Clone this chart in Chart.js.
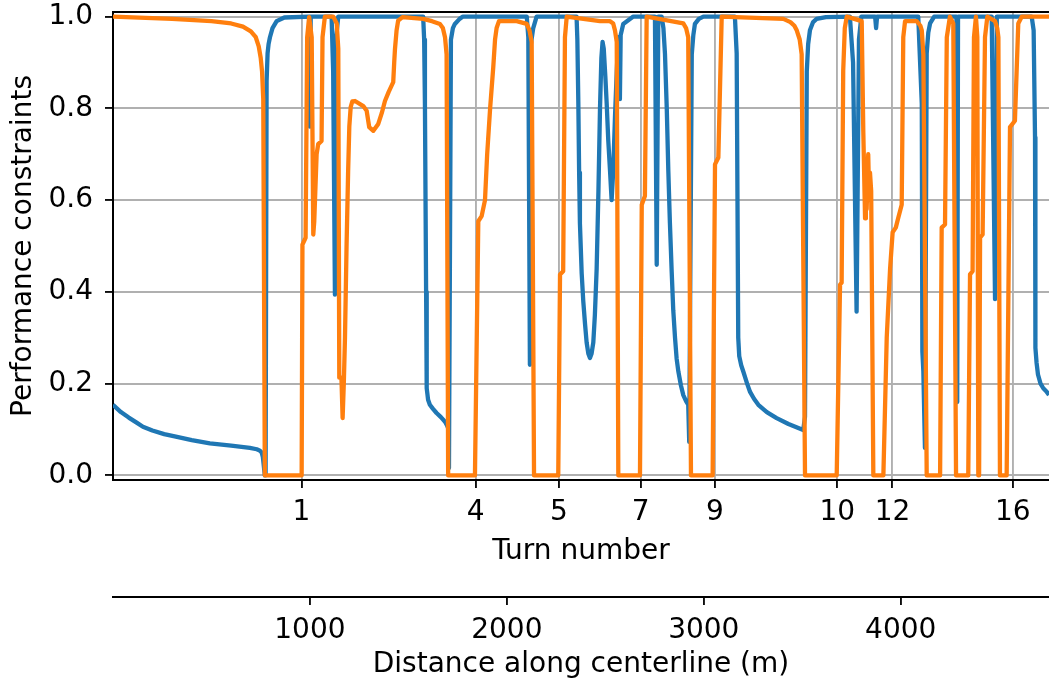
<!DOCTYPE html>
<html>
<head>
<meta charset="utf-8">
<script src="https://cdn.jsdelivr.net/npm/chart.js@4.4.0/dist/chart.umd.min.js"></script>
<style>
  body { margin: 0; background: #fff; }
  #chart { display: block; }
</style>
</head>
<body>
<canvas id="chart" width="1049" height="682"></canvas>
<script>
// lap distance range (m)
const distMax = 4753;

// turns along the lap
const turnLabels = ["1", "4", "5", "7", "9", "10", "12", "16"];
const turnDist = [957, 1842, 2264, 2679, 3057, 3678, 3958, 4569];
const distTicks = [1000, 2000, 3000, 4000];
const yTicks = [0, 0.2, 0.4, 0.6, 0.8, 1.0];

// first constraint (blue)
const blueDist = [0, 40, 80, 120, 152, 200, 260, 325, 400, 492, 600, 695, 730, 746, 755, 761, 766, 771, 775,
  780, 785, 790, 797, 810, 831, 870, 996, 1000, 1004,
  1110, 1118, 1127, 1132, 1144,
  1575, 1580, 1584, 1590, 1593, 1600, 1609, 1625, 1643, 1665, 1686, 1695, 1702, 1706, 1716, 1726, 1736, 1760, 1777,
  2101, 2109, 2117, 2122, 2134, 2151,
  2354, 2358, 2363, 2367, 2371, 2380, 2388, 2397, 2405, 2414, 2422, 2430, 2439, 2447, 2456, 2465, 2473, 2480, 2486,
  2492, 2500, 2507, 2515, 2524, 2532, 2540, 2549, 2558, 2566, 2571, 2574, 2578, 2591, 2642,
  2752, 2761, 2769, 2786, 2795, 2803, 2812, 2820, 2828, 2837, 2845, 2854, 2862, 2871, 2884, 2896, 2910, 2921, 2926,
  2939, 2947, 2955, 2975, 2998,
  3158, 3167, 3175, 3180, 3190, 3201, 3220, 3235, 3255, 3277, 3320, 3370, 3430, 3505, 3514,
  3523, 3530, 3539, 3555, 3573, 3620, 3742, 3758, 3776, 3788, 3800, 3870, 3875, 3880,
  4089, 4107, 4110, 4115, 4123, 4132, 4140, 4149, 4170, 4283, 4287, 4291, 4462, 4479, 4488,
  4665, 4675, 4682, 4684, 4690, 4697, 4710, 4724, 4740, 4753];
const blueVal = [0.154, 0.138, 0.126, 0.115, 0.106, 0.098, 0.090, 0.084, 0.077, 0.070, 0.065, 0.060, 0.057, 0.054, 0.050, 0.040, 0.020, 0.0, 0.0,
  0.86, 0.92, 0.94, 0.955, 0.975, 0.99, 0.998, 1.0, 0.76, 1.0,
  1.0, 0.88, 0.394, 0.95, 1.0,
  1.0, 0.95, 0.809, 0.40, 0.19, 0.165, 0.154, 0.145, 0.136, 0.127, 0.117, 0.110, 0.103, 0.016, 0.95, 0.975, 0.984, 0.995, 1.0,
  1.0, 0.955, 0.241, 0.94, 0.975, 1.0,
  1.0, 0.95, 0.81, 0.66, 0.55, 0.44, 0.38, 0.33, 0.29, 0.265, 0.256, 0.265, 0.29, 0.35, 0.45, 0.62, 0.80, 0.91, 0.945,
  0.93, 0.87, 0.81, 0.73, 0.663, 0.60, 0.663, 0.78, 0.88, 0.955, 0.955, 0.82, 0.96, 0.984, 1.0,
  1.0, 0.459, 1.0, 1.0, 0.975, 0.918, 0.80, 0.663, 0.55, 0.444, 0.36, 0.30, 0.255, 0.226, 0.196, 0.175, 0.162, 0.154, 0.073,
  0.918, 0.96, 0.984, 0.995, 1.0,
  1.0, 0.92, 0.30, 0.26, 0.24, 0.226, 0.20, 0.182, 0.167, 0.154, 0.138, 0.125, 0.112, 0.099, 0.128,
  0.88, 0.94, 0.97, 0.988, 0.995, 0.999, 1.0, 0.9, 0.357, 0.95, 1.0, 1.0, 0.975, 1.0,
  1.0, 0.81, 0.27, 0.226, 0.06, 0.92, 0.965, 0.985, 1.0, 1.0, 0.16, 1.0, 1.0, 0.384, 1.0,
  1.0, 0.97, 0.737, 0.278, 0.245, 0.22, 0.20, 0.19, 0.183, 0.175];

// second constraint (orange)
const orangeDist = [0, 300, 500, 600, 660, 700, 725, 740, 750, 757, 763, 771,
  958, 962, 978, 986, 996, 1009, 1017, 1022, 1034, 1042, 1059, 1064, 1076,
  1118, 1136, 1144, 1149, 1160, 1166, 1172, 1178, 1186, 1194, 1200, 1207, 1215, 1229, 1271, 1288,
  1301, 1322, 1347, 1365, 1381, 1400, 1423, 1428, 1432, 1440, 1448, 1470, 1575, 1620, 1660, 1675, 1686, 1694, 1702,
  1838, 1855, 1872, 1889, 1900, 1915, 1931, 1940, 1948, 1960, 2050, 2101, 2115, 2126, 2138,
  2261, 2270, 2286, 2295, 2304, 2473, 2524, 2540, 2549, 2558, 2566,
  2676, 2685, 2701, 2710, 2800, 2896, 2910, 2921, 2935,
  3045, 3057, 3074, 3091, 3404, 3440, 3460, 3472, 3487, 3497, 3514,
  3675, 3692, 3700, 3708, 3716, 3726, 3802, 3810, 3819, 3823, 3827, 3835, 3840, 3844, 3850, 3861,
  3912, 3929, 3946, 3959, 3975, 3988, 4005, 4013, 4022, 4081, 4100, 4107, 4115, 4132,
  4200, 4208, 4225, 4234, 4250, 4267, 4281, 4343, 4352, 4365, 4372, 4382, 4389, 4394, 4398, 4403, 4416, 4428,
  4440, 4479, 4490, 4496, 4504, 4538, 4555, 4580, 4597, 4615, 4753];
const orangeVal = [1.0, 0.995, 0.99, 0.985, 0.978, 0.968, 0.955, 0.935, 0.91, 0.88, 0.82, 0.0,
  0.0, 0.503, 0.518, 0.955, 0.999, 0.955, 0.525, 0.554, 0.70, 0.722, 0.729, 0.955, 1.0,
  1.0, 0.985, 0.93, 0.213, 0.213, 0.125, 0.20, 0.30, 0.50, 0.663, 0.76, 0.803, 0.815, 0.816, 0.805, 0.795,
  0.759, 0.751, 0.766, 0.79, 0.816, 0.836, 0.857, 0.90, 0.93, 0.97, 0.991, 0.999, 0.995, 0.99, 0.984, 0.975, 0.955, 0.918, 0.0,
  0.0, 0.554, 0.565, 0.60, 0.70, 0.80, 0.89, 0.95, 0.975, 0.99, 0.99, 0.984, 0.97, 0.945, 0.0,
  0.0, 0.438, 0.445, 0.955, 1.0, 0.99, 0.99, 0.985, 0.97, 0.945, 0.0,
  0.0, 0.59, 0.609, 1.0, 0.993, 0.985, 0.975, 0.955, 0.0,
  0.0, 0.678, 0.693, 1.0, 0.995, 0.988, 0.98, 0.97, 0.95, 0.918, 0.0,
  0.0, 0.416, 0.42, 0.882, 0.975, 1.0, 0.99, 0.75, 0.56, 0.63, 0.58, 0.70, 0.60, 0.66, 0.62, 0.0,
  0.0, 0.30, 0.45, 0.53, 0.54, 0.562, 0.59, 0.955, 0.99, 0.99, 0.98, 0.97, 0.918, 0.0,
  0.0, 0.54, 0.547, 0.955, 1.0, 0.985, 0.0, 0.0, 0.438, 0.445, 0.955, 1.0, 0.955, 0.0, 0.0, 0.518, 0.525, 0.955,
  1.0, 0.99, 0.975, 0.955, 0.0, 0.0, 0.759, 0.773, 0.985, 1.0, 1.0];

const toPoints = (xs, ys) => xs.map((x, i) => ({ x: x, y: ys[i] }));

const FONT = { family: "'DejaVu Sans', sans-serif", size: 28 };
const GRID_GRAY = "#b0b0b0";

const axisGrid = {
  color: GRID_GRAY,
  lineWidth: 1.9,
  tickColor: "#000",
  tickLength: 8,
  tickWidth: 1.8,
};
const axisBorder = { color: "#000", width: 2 };

// matplotlib-style top spine
const topSpine = {
  id: "topSpine",
  afterDraw(chart) {
    const { ctx, chartArea } = chart;
    ctx.save();
    ctx.strokeStyle = "#000";
    ctx.lineWidth = 2;
    ctx.beginPath();
    ctx.moveTo(chartArea.left - 1, chartArea.top);
    ctx.lineTo(chartArea.right, chartArea.top);
    ctx.stroke();
    ctx.restore();
  },
};

const lineStyle = {
  borderWidth: 4.3,
  pointRadius: 0,
  borderJoinStyle: "round",
  tension: 0,
  fill: false,
  xAxisID: "turn",
  yAxisID: "y",
};

new Chart(document.getElementById("chart"), {
  type: "line",
  data: {
    datasets: [
      { ...lineStyle, data: toPoints(blueDist, blueVal), borderColor: "#1f77b4", order: 2 },
      { ...lineStyle, data: toPoints(orangeDist, orangeVal), borderColor: "#ff7f0e", order: 1 },
    ],
  },
  options: {
    responsive: false,
    animation: false,
    layout: { padding: { left: 0, right: 0, top: 12, bottom: 0 } },
    plugins: { legend: { display: false }, tooltip: { enabled: false } },
    scales: {
      y: {
        position: "left",
        min: -0.01,
        max: 1.01,
        afterBuildTicks: (s) => { s.ticks = yTicks.map((v) => ({ value: v })); },
        afterFit: (s) => {
          s.width = 113;
          s.paddingTop = 0;
          s.paddingBottom = 0;
        },
        ticks: { font: FONT, color: "#000", padding: 12, callback: (v) => v.toFixed(1) },
        grid: axisGrid,
        border: axisBorder,
        title: {
          display: true,
          text: "Performance constraints",
          font: FONT,
          color: "#000",
          padding: { top: 7, bottom: 0 },
        },
      },
      turn: {
        type: "linear",
        position: "bottom",
        weight: 0,
        min: 0,
        max: distMax,
        afterBuildTicks: (s) => { s.ticks = turnDist.map((v) => ({ value: v })); },
        afterFit: (s) => { s.height = 117; },
        ticks: {
          font: FONT,
          color: "#000",
          padding: 8,
          autoSkip: false,
          maxRotation: 0,
          callback: (v, i) => turnLabels[i],
        },
        grid: axisGrid,
        border: axisBorder,
        title: {
          display: true,
          text: "Turn number",
          font: FONT,
          color: "#000",
          padding: { top: 0, bottom: 28 },
        },
      },
      dist: {
        type: "linear",
        position: "bottom",
        weight: 1,
        min: 0,
        max: distMax,
        afterBuildTicks: (s) => { s.ticks = distTicks.map((v) => ({ value: v })); },
        afterFit: (s) => { s.height = 85; },
        ticks: {
          font: FONT,
          color: "#000",
          padding: 9,
          autoSkip: false,
          maxRotation: 0,
          callback: (v) => String(v),
        },
        grid: { ...axisGrid, drawOnChartArea: false },
        border: axisBorder,
        title: {
          display: true,
          text: "Distance along centerline (m)",
          font: FONT,
          color: "#000",
          padding: { top: 0, bottom: 0 },
        },
      },
    },
  },
  plugins: [topSpine],
});
</script>
</body>
</html>
